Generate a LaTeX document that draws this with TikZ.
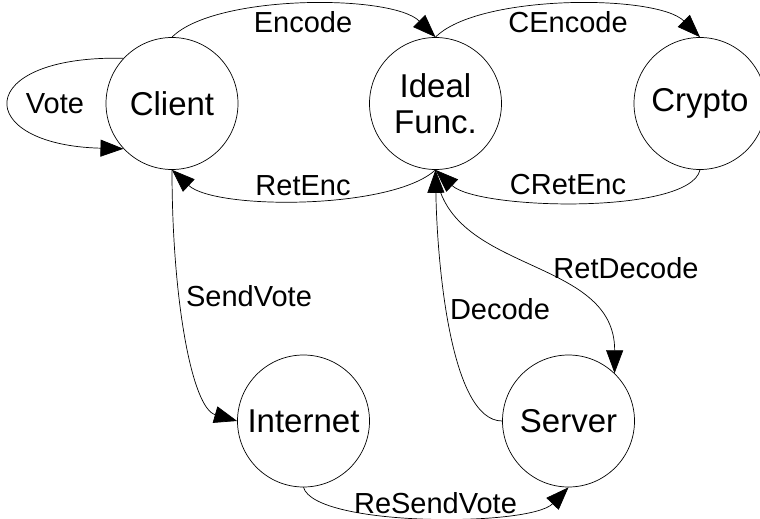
\documentclass[tikz,border=0pt]{standalone}
\usepackage{fontspec}
\setmainfont{Liberation Sans}
\usetikzlibrary{arrows.meta}

\tikzset{
  state/.style={circle, draw, line width=0.7pt, minimum size=132pt, inner sep=0pt,
                align=center, font=\fontsize{33}{36}\selectfont},
  conn/.style={line width=0.7pt, -{Triangle[length=23pt,width=17pt]}},
  lbl/.style={font=\fontsize{29}{32}\selectfont, inner sep=0pt}
}

\begin{document}
\begin{tikzpicture}[x=1pt, y=-1pt]
  \useasboundingbox (0,0) rectangle (760,519);

  % states
  \node[state] (cl)  at (172,103.5) {Client};
  \node[state] (idf) at (435.5,103.5) {Ideal\\Func.};
  \node[state] (cry) at (700,103.5) {Crypto};
  \node[state] (inet) at (303.5,421) {Internet};
  \node[state] (srv) at (568.5,421) {Server};

  % transitions
  \draw[conn] (cl.137) .. controls (-28,55) and (-28,145) .. (cl.223);
  \draw[conn] (cl.north) .. controls (215,-6) and (392,-6) .. (idf.north);
  \draw[conn] (idf.north) .. controls (478,-6) and (657,-6) .. (cry.north);
  \draw[conn] (idf.south) .. controls (392,210) and (215,210) .. (cl.south);
  \draw[conn] (cry.south) .. controls (690,215) and (478,210) .. (idf.south);
  \draw[conn] (cl.south) .. controls (172,300) and (192,408) .. (inet.west);
  \draw[conn] (inet.south) .. controls (315,527) and (530,527) .. (srv.south);
  \draw[conn] (srv.west) .. controls (450,421) and (437,260) .. (idf.south);
  \draw[conn] (idf.south) .. controls (445,275) and (615,255) .. (srv.46);

  % transition labels
  \node[lbl] (lvote) at (55,104) {Vote};
  \node[lbl] (lenc)  at (303,22) {Encode};
  \node[lbl] (lcenc) at (568,22) {CEncode};
  \node[lbl] (lret)  at (303,186) {RetEnc};
  \node[lbl] (lcret) at (568,185) {CRetEnc};
  \node[lbl] (lsend) at (249,296) {SendVote};
  \node[lbl] (lresend) at (435.5,503) {ReSendVote};
  \node[lbl] (ldec)  at (500,309) {Decode};
  \node[lbl] (lrdec) at (626,268) {RetDecode};
\end{tikzpicture}
\end{document}
